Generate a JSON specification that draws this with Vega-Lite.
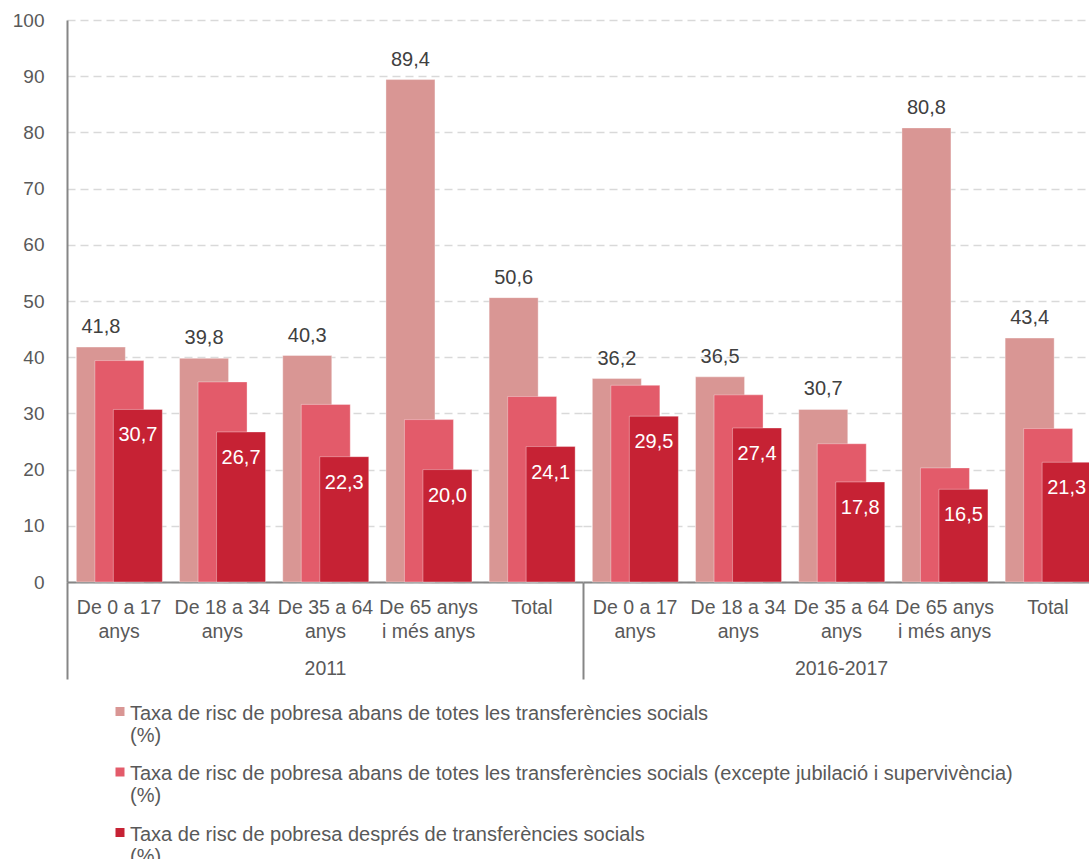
{
  "$schema": "https://vega.github.io/schema/vega-lite/v6.json",
  "background": "white",
  "padding": {"left": 12, "top": 11, "right": 0, "bottom": 0},
  "spacing": 0,
  "bounds": "flush",
  "data": {"values": [
    {"year": "2011", "cat": "De 0 a 17|anys", "serie": "Taxa de risc de pobresa abans de totes les transferències socials (%)", "value": 41.8},
    {"year": "2011", "cat": "De 0 a 17|anys", "serie": "Taxa de risc de pobresa abans de totes les transferències socials (excepte jubilació i supervivència) (%)", "value": 39.4},
    {"year": "2011", "cat": "De 0 a 17|anys", "serie": "Taxa de risc de pobresa després de transferències socials (%)", "value": 30.7},
    {"year": "2011", "cat": "De 18 a 34|anys", "serie": "Taxa de risc de pobresa abans de totes les transferències socials (%)", "value": 39.8},
    {"year": "2011", "cat": "De 18 a 34|anys", "serie": "Taxa de risc de pobresa abans de totes les transferències socials (excepte jubilació i supervivència) (%)", "value": 35.6},
    {"year": "2011", "cat": "De 18 a 34|anys", "serie": "Taxa de risc de pobresa després de transferències socials (%)", "value": 26.7},
    {"year": "2011", "cat": "De 35 a 64|anys", "serie": "Taxa de risc de pobresa abans de totes les transferències socials (%)", "value": 40.3},
    {"year": "2011", "cat": "De 35 a 64|anys", "serie": "Taxa de risc de pobresa abans de totes les transferències socials (excepte jubilació i supervivència) (%)", "value": 31.6},
    {"year": "2011", "cat": "De 35 a 64|anys", "serie": "Taxa de risc de pobresa després de transferències socials (%)", "value": 22.3},
    {"year": "2011", "cat": "De 65 anys|i més anys", "serie": "Taxa de risc de pobresa abans de totes les transferències socials (%)", "value": 89.4},
    {"year": "2011", "cat": "De 65 anys|i més anys", "serie": "Taxa de risc de pobresa abans de totes les transferències socials (excepte jubilació i supervivència) (%)", "value": 28.9},
    {"year": "2011", "cat": "De 65 anys|i més anys", "serie": "Taxa de risc de pobresa després de transferències socials (%)", "value": 20.0},
    {"year": "2011", "cat": "Total", "serie": "Taxa de risc de pobresa abans de totes les transferències socials (%)", "value": 50.6},
    {"year": "2011", "cat": "Total", "serie": "Taxa de risc de pobresa abans de totes les transferències socials (excepte jubilació i supervivència) (%)", "value": 33.0},
    {"year": "2011", "cat": "Total", "serie": "Taxa de risc de pobresa després de transferències socials (%)", "value": 24.1},
    {"year": "2016-2017", "cat": "De 0 a 17|anys", "serie": "Taxa de risc de pobresa abans de totes les transferències socials (%)", "value": 36.2},
    {"year": "2016-2017", "cat": "De 0 a 17|anys", "serie": "Taxa de risc de pobresa abans de totes les transferències socials (excepte jubilació i supervivència) (%)", "value": 35.0},
    {"year": "2016-2017", "cat": "De 0 a 17|anys", "serie": "Taxa de risc de pobresa després de transferències socials (%)", "value": 29.5},
    {"year": "2016-2017", "cat": "De 18 a 34|anys", "serie": "Taxa de risc de pobresa abans de totes les transferències socials (%)", "value": 36.5},
    {"year": "2016-2017", "cat": "De 18 a 34|anys", "serie": "Taxa de risc de pobresa abans de totes les transferències socials (excepte jubilació i supervivència) (%)", "value": 33.3},
    {"year": "2016-2017", "cat": "De 18 a 34|anys", "serie": "Taxa de risc de pobresa després de transferències socials (%)", "value": 27.4},
    {"year": "2016-2017", "cat": "De 35 a 64|anys", "serie": "Taxa de risc de pobresa abans de totes les transferències socials (%)", "value": 30.7},
    {"year": "2016-2017", "cat": "De 35 a 64|anys", "serie": "Taxa de risc de pobresa abans de totes les transferències socials (excepte jubilació i supervivència) (%)", "value": 24.6},
    {"year": "2016-2017", "cat": "De 35 a 64|anys", "serie": "Taxa de risc de pobresa després de transferències socials (%)", "value": 17.8},
    {"year": "2016-2017", "cat": "De 65 anys|i més anys", "serie": "Taxa de risc de pobresa abans de totes les transferències socials (%)", "value": 80.8},
    {"year": "2016-2017", "cat": "De 65 anys|i més anys", "serie": "Taxa de risc de pobresa abans de totes les transferències socials (excepte jubilació i supervivència) (%)", "value": 20.3},
    {"year": "2016-2017", "cat": "De 65 anys|i més anys", "serie": "Taxa de risc de pobresa després de transferències socials (%)", "value": 16.5},
    {"year": "2016-2017", "cat": "Total", "serie": "Taxa de risc de pobresa abans de totes les transferències socials (%)", "value": 43.4},
    {"year": "2016-2017", "cat": "Total", "serie": "Taxa de risc de pobresa abans de totes les transferències socials (excepte jubilació i supervivència) (%)", "value": 27.3},
    {"year": "2016-2017", "cat": "Total", "serie": "Taxa de risc de pobresa després de transferències socials (%)", "value": 21.3}
  ]},
  "hconcat": [
    {
      "width": 516,
      "height": 562,
      "transform": [{"filter": "datum.year === '2011'"}],
      "encoding": {
        "x": {
          "field": "cat", "type": "nominal", "sort": null,
          "scale": {"paddingInner": 0, "paddingOuter": 0},
          "axis": {
            "title": "2011", "titleY": 86, "titleBaseline": "middle", "titleFontSize": 19.5, "titleFontWeight": "normal", "titleColor": "#595959",
            "labelExpr": "split(datum.label, '|')", "labelFontSize": 19.5, "labelColor": "#595959", "labelLineHeight": 24, "labelBaseline": "top",
            "labelPadding": -81, "labelAngle": 0, "labelLimit": 300,
            "tickSize": 97, "tickColor": "#868686", "tickWidth": 2, "tickOffset": -51.6, "labelOffset": 51.6,
            "tickOpacity": {"condition": {"test": "datum.value === 'De 0 a 17|anys'", "value": 1}, "value": 0},
            "domainColor": "#868686", "domainWidth": 2
          }
        },
        "xOffset": {
          "field": "serie", "type": "nominal", "sort": null,
          "scale": {"domain": ["Taxa de risc de pobresa abans de totes les transferències socials (%)", "Taxa de risc de pobresa abans de totes les transferències socials (excepte jubilació i supervivència) (%)", "Taxa de risc de pobresa després de transferències socials (%)"], "paddingInner": 0, "paddingOuter": 0, "range": [24.6, 80.1]}
        },
        "y": {
          "field": "value", "type": "quantitative",
          "scale": {"domain": [0, 100]},
          "axis": {
            "title": null, "values": [0, 10, 20, 30, 40, 50, 60, 70, 80, 90, 100],
            "labelFontSize": 19, "labelColor": "#595959", "labelPadding": 23, "ticks": false,
            "domainColor": "#868686", "domainWidth": 2,
            "gridColor": "#D9D9D9", "gridDash": [8, 5], "gridWidth": 1.5
          }
        }
      },
      "layer": [
        {
          "mark": {"type": "bar", "width": 49, "stroke": "white", "strokeWidth": 1, "strokeOpacity": 0.35},
          "encoding": {
            "color": {
              "field": "serie", "type": "nominal",
              "scale": {"domain": ["Taxa de risc de pobresa abans de totes les transferències socials (%)", "Taxa de risc de pobresa abans de totes les transferències socials (excepte jubilació i supervivència) (%)", "Taxa de risc de pobresa després de transferències socials (%)"], "range": ["#D99694", "#E35B6A", "#C62234"]},
              "legend": {
                "orient": "none", "legendX": 42, "legendY": 682.5, "direction": "vertical", "title": null,
                "labelFontSize": 20, "labelColor": "#595959", "labelLimit": 1200, "labelLineHeight": 22,
                "labelExpr": "split(replace(datum.label, ' (%)', '|(%)'), '|')",
                "symbolType": "M-0.409,-0.59L0.409,-0.59L0.409,0.227L-0.409,0.227Z", "symbolSize": 484, "symbolStrokeWidth": 0,
                "labelOffset": -1, "rowPadding": 17.5, "padding": 0
              }
            }
          }
        },
        {
          "transform": [{"filter": "datum.serie === 'Taxa de risc de pobresa abans de totes les transferències socials (%)'"}],
          "mark": {"type": "text", "dy": -20, "fontSize": 20, "color": "#404040"},
          "encoding": {"text": {"field": "value", "type": "quantitative", "format": ".1f"}}
        },
        {
          "transform": [{"filter": "datum.serie === 'Taxa de risc de pobresa després de transferències socials (%)'"}],
          "mark": {"type": "text", "dy": 26, "fontSize": 20, "color": "white"},
          "encoding": {"text": {"field": "value", "type": "quantitative", "format": ".1f"}}
        }
      ]
    },
    {
      "width": 516,
      "height": 562,
      "transform": [{"filter": "datum.year === '2016-2017'"}],
      "encoding": {
        "x": {
          "field": "cat", "type": "nominal", "sort": null,
          "scale": {"paddingInner": 0, "paddingOuter": 0},
          "axis": {
            "title": "2016-2017", "titleY": 86, "titleBaseline": "middle", "titleFontSize": 19.5, "titleFontWeight": "normal", "titleColor": "#595959",
            "labelExpr": "split(datum.label, '|')", "labelFontSize": 19.5, "labelColor": "#595959", "labelLineHeight": 24, "labelBaseline": "top",
            "labelPadding": -81, "labelAngle": 0, "labelLimit": 300,
            "tickSize": 97, "tickColor": "#868686", "tickWidth": 2, "tickOffset": -51.6, "labelOffset": 51.6,
            "tickOpacity": {"condition": {"test": "datum.value === 'De 0 a 17|anys'", "value": 1}, "value": 0},
            "domainColor": "#868686", "domainWidth": 2
          }
        },
        "xOffset": {
          "field": "serie", "type": "nominal", "sort": null,
          "scale": {"domain": ["Taxa de risc de pobresa abans de totes les transferències socials (%)", "Taxa de risc de pobresa abans de totes les transferències socials (excepte jubilació i supervivència) (%)", "Taxa de risc de pobresa després de transferències socials (%)"], "paddingInner": 0, "paddingOuter": 0, "range": [24.6, 80.1]}
        },
        "y": {
          "field": "value", "type": "quantitative",
          "scale": {"domain": [0, 100]},
          "axis": {
            "title": null, "values": [0, 10, 20, 30, 40, 50, 60, 70, 80, 90, 100],
            "labels": false, "ticks": false, "domain": false,
            "gridColor": "#D9D9D9", "gridDash": [8, 5], "gridWidth": 1.5
          }
        }
      },
      "layer": [
        {
          "mark": {"type": "bar", "width": 49, "stroke": "white", "strokeWidth": 1, "strokeOpacity": 0.35},
          "encoding": {
            "color": {
              "field": "serie", "type": "nominal",
              "scale": {"domain": ["Taxa de risc de pobresa abans de totes les transferències socials (%)", "Taxa de risc de pobresa abans de totes les transferències socials (excepte jubilació i supervivència) (%)", "Taxa de risc de pobresa després de transferències socials (%)"], "range": ["#D99694", "#E35B6A", "#C62234"]}
            }
          }
        },
        {
          "transform": [{"filter": "datum.serie === 'Taxa de risc de pobresa abans de totes les transferències socials (%)'"}],
          "mark": {"type": "text", "dy": -20, "fontSize": 20, "color": "#404040"},
          "encoding": {"text": {"field": "value", "type": "quantitative", "format": ".1f"}}
        },
        {
          "transform": [{"filter": "datum.serie === 'Taxa de risc de pobresa després de transferències socials (%)'"}],
          "mark": {"type": "text", "dy": 26, "fontSize": 20, "color": "white"},
          "encoding": {"text": {"field": "value", "type": "quantitative", "format": ".1f"}}
        }
      ]
    }
  ],
  "config": {
    "font": "Liberation Sans",
    "view": {"stroke": null},
    "locale": {"number": {"decimal": ",", "thousands": ".", "grouping": [3], "currency": ["", " €"]}}
  }
}
